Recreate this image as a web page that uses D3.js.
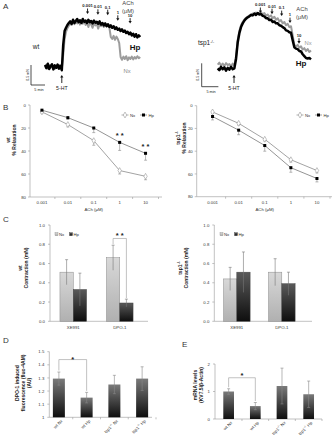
<!DOCTYPE html>
<html><head><meta charset="utf-8">
<script src="https://cdn.jsdelivr.net/npm/d3@7"></script>
<style>body{margin:0;background:#fff}svg{display:block;font-family:"Liberation Sans",Arial,sans-serif}</style>
</head><body><svg id="c" width="333" height="440"></svg>
<script>
// ---------------- DATA ----------------
const achLabels = ["0.001","0.01","0.1","1","10"];
const traceStep = 0.5; // min between samples
const wtHpTrace = [0.05,-0.03,0.08,-0.05,0.02,0.07,-0.06,0.04,-0.02,0.06,-0.04,0.03,-0.08,
 0.55,0.9,0.98,1.05,1.1,1.14,1.08,1.18,
 1.1,1.15,1.2,1.12,1.17,1.1,
 1.2,1.13,1.16,1.1,1.18,1.12,
 1.15,1.09,1.16,1.11,1.13,1.08,
 1.14,1.06,1.1,1.04,1.09,1.02,
 1.07,1.0,1.04,0.98,1.02,0.95,
 0.99,0.93,0.96,0.9,0.94,0.88,
 0.91,0.85,0.88,0.82,0.86,0.79,
 0.83,0.76,0.82,0.74,0.79,0.75];
const wtNxTrace = [0.02,0.06,-0.04,0.05,-0.02,0.04,0.0,-0.05,0.03,-0.03,0.05,-0.02,-0.04,
 0.3,0.7,0.88,0.97,1.03,1.08,1.05,1.12,
 1.07,1.13,1.09,1.15,1.06,1.12,
 1.08,1.14,1.05,1.1,1.0,1.12,
 1.06,0.98,1.1,1.04,1.08,0.96,
 1.07,1.02,1.06,1.0,1.05,1.02,
 1.04,0.98,0.75,0.7,0.78,0.68,
 0.76,0.7,0.6,0.25,0.18,0.26,
 0.2,0.27,0.17,0.24,0.2,0.26,
 0.19,0.25,0.21,0.27,0.22,0.25];
const tspNxTrace = [0.08,0.12,0.06,0.1,0.05,0.11,0.07,0.09,0.04,0.1,0.06,
 0.25,0.6,0.8,0.92,0.99,1.04,1.08,1.1,1.13,1.15,
 1.17,1.16,1.19,1.17,1.18,1.2,
 1.15,1.18,1.12,1.15,1.1,1.13,
 1.07,1.1,1.04,1.07,1.0,1.03,
 0.96,0.99,0.92,0.95,0.88,0.9,
 0.7,0.5,0.47,0.5,0.44,0.47,
 0.4,0.43,0.37,0.41,0.35,0.38];
const tspHpTrace = [0.0,-0.04,0.03,-0.02,0.02,-0.05,0.01,-0.03,0.03,-0.02,0.0,
 0.2,0.55,0.75,0.88,0.96,1.02,1.06,1.09,1.11,1.14,
 1.13,1.17,1.14,1.18,1.15,1.16,
 1.12,1.11,1.07,1.07,1.03,1.04,
 0.99,1.0,0.96,0.96,0.92,0.91,
 0.88,0.86,0.81,0.8,0.77,0.76,
 0.6,0.45,0.42,0.41,0.37,0.36,
 0.3,0.26,0.22,0.21,0.22,0.19];
const achTimesWt = [15.2,18.9,22.4,26.0,30.4];
const achTimesTsp = [12.8,16.3,19.2,21.7,24.4];
const htTimeWt = 6.0, htTimeTsp = 4.9;
const scaleBarMN = 0.5, scaleBarMin = 5;

const bWtNx = [6,17,31,57,62],      bWtNxErr = [1,2,4,3,3];
const bWtHp = [4.5,11,20,32.5,42],  bWtHpErr = [1,1.5,4,7,6];
const bTspNx = [5.5,15.5,29.5,47.5,57], bTspNxErr = [1,1.5,1.5,2,2];
const bTspHp = [9.5,21.5,35,54.5,64],   bTspHpErr = [3,4,5,4,3];
const bSigWt = ["","","","**","**"];
const bTicks = [0,20,40,60,80];

const cGroups = ["XE991","DPO-1"];
const cWtNx = [0.51,0.66],  cWtNxErr = [0.13,0.13];
const cWtHp = [0.33,0.19],  cWtHpErr = [0.17,0.04];
const cTspNx = [0.44,0.51], cTspNxErr = [0.12,0.14];
const cTspHp = [0.51,0.39], cTspHpErr = [0.21,0.12];
const cTicks = [0,0.2,0.4,0.6,0.8,1.0];

const deGeno = ["wt","wt","tsp1","tsp1"];
const deCond = ["Nx","Hp","Nx","Hp"];
const dVals = [1.295,1.15,1.25,1.295], dErr = [0.05,0.04,0.07,0.09];
const dTicks = [1,1.1,1.2,1.3,1.4,1.5];
const eVals = [1.0,0.47,1.2,0.9], eErr = [0.1,0.13,0.65,0.48];
const eTicks = [0,1,2];

// ---------------- DRAW ----------------
const svg = d3.select("#c");
const defs = svg.append("defs");
function grad(id, top, bot){
  const g = defs.append("linearGradient").attr("id",id).attr("x1",0).attr("y1",0).attr("x2",0).attr("y2",1);
  g.append("stop").attr("offset","0%").attr("stop-color",top);
  g.append("stop").attr("offset","100%").attr("stop-color",bot);
}
grad("gNx","#d8d8d8","#b0b0b0");
grad("gHp","#5a5a5a","#0e0e0e");
grad("gDark","#7a7a7a","#0e0e0e");

function text(g, x, y, s, o={}){
  return g.append("text").attr("x",x).attr("y",y).text(s)
    .attr("font-size",o.size||5).attr("fill",o.fill||"#222")
    .attr("text-anchor",o.anchor||"middle").attr("font-weight",o.weight||"normal");
}
function rotText(g, x, y, parts, o={}){
  const t = g.append("text").attr("transform",`translate(${x},${y}) rotate(-90)`)
    .attr("font-size",o.size||5).attr("fill",o.fill||"#222").attr("text-anchor","middle")
    .attr("font-weight",o.weight||"bold");
  parts.forEach(p=>{
    const ts = t.append("tspan").text(p.t);
    if(p.sup){ ts.attr("baseline-shift","super").attr("font-size",(o.size||5)*0.7); }
  });
  return t;
}

// Panel letters
[["A",3,9],["B",3,110],["C",3,222],["D",3,343],["E",182,347]].forEach(d=>
  text(svg,d[1],d[2],d[0],{size:8,anchor:"start",fill:"#333"}));

// ---- Panel A ----
function tracePanel(o){
  const g = svg.append("g");
  const n = o.hp.length;
  const x = d3.scaleLinear().domain([0,(n-1)*traceStep]).range(o.xr);
  const y = d3.scaleLinear().domain([0,1]).range(o.yr);
  const line = d3.line().x((d,i)=>x(i*traceStep)).y(d=>y(d));
  g.append("path").attr("d",line(o.nx)).attr("fill","none").attr("stroke","#9c9c9c").attr("stroke-width",2.0).attr("stroke-linejoin","round");
  g.append("path").attr("d",line(o.hp)).attr("fill","none").attr("stroke","#000").attr("stroke-width",2.5).attr("stroke-linejoin","round");
  o.ach.forEach((t,i)=>{
    const idx = Math.round(t/traceStep);
    const top = Math.min(y(o.hp[idx]), y(o.nx[idx]));
    const tip = Math.max(o.minTip, top - o.gap);
    const len = 5.5;
    g.append("line").attr("x1",x(t)).attr("x2",x(t)).attr("y1",tip-len).attr("y2",tip-2).attr("stroke","#111").attr("stroke-width",0.9);
    g.append("path").attr("d",`M${x(t)-1.6},${tip-2.6}L${x(t)+1.6},${tip-2.6}L${x(t)},${tip}Z`).attr("fill","#111");
    text(g,x(t),tip-len-1.2,achLabels[i],{size:4.2,weight:"bold"});
  });
  const hx = x(o.ht), hb = o.htY;
  g.append("line").attr("x1",hx).attr("x2",hx).attr("y1",hb-4).attr("y2",hb+2).attr("stroke","#111").attr("stroke-width",0.9);
  g.append("path").attr("d",`M${hx-1.6},${hb-3.4}L${hx+1.6},${hb-3.4}L${hx},${hb-6}Z`).attr("fill","#111");
  text(g,hx,hb+9,"5-HT",{size:5.2});
  const sx = o.sbx, sy = o.sby;
  const vlen = y(0)-y(scaleBarMN), hlen = x(scaleBarMin)-x(0);
  g.append("path").attr("d",`M${sx},${sy-vlen}V${sy}H${sx+hlen}`).attr("fill","none").attr("stroke","#222").attr("stroke-width",0.8);
  rotText(g,sx-2.5,sy-vlen/2,[{t:"0.5 mN"}],{size:3.6,weight:"normal"});
  text(g,sx+hlen/2+1,sy+6,"5 min",{size:3.8});
  return {x,y,g};
}
const aL = tracePanel({hp:wtHpTrace,nx:wtNxTrace,xr:[45,140.2],yr:[67,27],ach:achTimesWt,gap:9,minTip:13,ht:htTimeWt,htY:81,sbx:31,sby:85});
text(aL.g,36,49,"wt",{size:6.5});
text(aL.g,128,5,"ACh",{size:5.8,fill:"#444"});
text(aL.g,128,12.5,"(\u03bcM)",{size:5.8,fill:"#444"});
text(aL.g,135,50,"Hp",{size:8,weight:"bold",fill:"#111"});
text(aL.g,127,73,"Nx",{size:5.8,fill:"#888"});

const aR = tracePanel({hp:tspHpTrace,nx:tspNxTrace,xr:[217.7,311],yr:[68.3,21.5],ach:achTimesTsp,gap:4,minTip:13,ht:htTimeTsp,htY:81,sbx:201.7,sby:86.7});
const tt = aR.g.append("text").attr("x",206).attr("y",45).attr("font-size",6.5).attr("fill","#222").attr("text-anchor","middle");
tt.append("tspan").text("tsp1");
tt.append("tspan").text("-/-").attr("baseline-shift","super").attr("font-size",4.2);
text(aR.g,302,10.5,"ACh",{size:5.8,fill:"#444"});
text(aR.g,302,18.5,"(\u03bcM)",{size:5.8,fill:"#444"});
text(aR.g,308,45,"Nx",{size:5.8,fill:"#999"});
text(aR.g,301,66,"Hp",{size:8,weight:"bold",fill:"#111"});

// ---- Panel B ----
function linePanel(o){
  const g = svg.append("g");
  const x = d3.scaleBand().domain(achLabels).range(o.xr);
  const y = d3.scaleLinear().domain([0,80]).range(o.yr);
  const ax = "#999";
  g.append("line").attr("x1",o.ax).attr("x2",o.ax).attr("y1",y(0)).attr("y2",y(80)).attr("stroke",ax).attr("stroke-width",0.6);
  g.append("line").attr("x1",o.ax).attr("x2",o.xEnd).attr("y1",y(80)).attr("y2",y(80)).attr("stroke",ax).attr("stroke-width",0.6);
  bTicks.forEach(v=>{
    g.append("line").attr("x1",o.ax-2).attr("x2",o.ax).attr("y1",y(v)).attr("y2",y(v)).attr("stroke",ax).attr("stroke-width",0.6);
    text(g,o.ax-4,y(v)+1.6,String(v),{size:4.3,anchor:"end",fill:"#333"});
  });
  achLabels.forEach((c,i)=>{
    const e = x(c)+x.bandwidth();
    g.append("line").attr("x1",e).attr("x2",e).attr("y1",y(80)).attr("y2",y(80)+2).attr("stroke",ax).attr("stroke-width",0.6);
    text(g,x(c)+x.bandwidth()/2,y(80)+7,c,{size:4.3,fill:"#333"});
  });
  text(g,(o.xr[0]+o.xr[1])/2,y(80)+14,"ACh (\u03bcM)",{size:4.3,fill:"#333"});
  const cx = c=>x(c)+x.bandwidth()/2;
  const series = [{v:o.nx,e:o.nxE,col:"#999",m:"nx"},{v:o.hp,e:o.hpE,col:"#888",m:"hp"}];
  series.forEach(s=>{
    s.v.forEach((v,i)=>{
      const xx = cx(achLabels[i]);
      g.append("line").attr("x1",xx).attr("x2",xx).attr("y1",y(v)).attr("y2",y(v+s.e[i])).attr("stroke","#888").attr("stroke-width",0.6);
      g.append("line").attr("x1",xx-1.5).attr("x2",xx+1.5).attr("y1",y(v+s.e[i])).attr("y2",y(v+s.e[i])).attr("stroke","#888").attr("stroke-width",0.6);
    });
    g.append("path").attr("d",d3.line().x((d,i)=>cx(achLabels[i])).y(d=>y(d))(s.v)).attr("fill","none").attr("stroke",s.col).attr("stroke-width",0.9);
  });
  function marker(gg,xx,yy,m){
    if(m==="nx") gg.append("path").attr("d",d3.symbol(d3.symbolDiamond,10)()).attr("transform",`translate(${xx},${yy})`).attr("fill","#fff").attr("stroke","#999").attr("stroke-width",0.6);
    else gg.append("rect").attr("x",xx-1.5).attr("y",yy-1.5).attr("width",3).attr("height",3).attr("fill","#000");
  }
  series.forEach(s=> s.v.forEach((v,i)=>marker(g,cx(achLabels[i]),y(v),s.m)));
  if(o.sig) o.sig.forEach((s,i)=>{ if(s) text(g,cx(achLabels[i]),y(o.hp[i])-4,s.split("").join(" "),{size:7.5,weight:"bold",fill:"#222"}); });
  const L = o.leg;
  [["Nx","nx","#999"],["Hp","hp","#888"]].forEach((d,k)=>{
    const lx = L[0]+k*18.5, ly = L[1];
    g.append("line").attr("x1",lx).attr("x2",lx+7).attr("y1",ly).attr("y2",ly).attr("stroke",d[2]).attr("stroke-width",0.8);
    marker(g,lx+3.5,ly,d[1]);
    text(g,lx+8.5,ly+1.5,d[0],{size:4.3,anchor:"start",fill:"#333"});
  });
  return g;
}
const bL = linePanel({xr:[29,158.5],yr:[105,197],ax:30,xEnd:162,nx:bWtNx,nxE:bWtNxErr,hp:bWtHp,hpE:bWtHpErr,sig:bSigWt,leg:[121.5,115]});
rotText(bL,10,140,[{t:"wt"}]);
rotText(bL,16,140,[{t:"% Relaxation"}]);
const bR = linePanel({xr:[199.5,330],yr:[105.7,196.7],ax:196.7,xEnd:332,nx:bTspNx,nxE:bTspNxErr,hp:bTspHp,hpE:bTspHpErr,sig:null,leg:[296.5,115]});
rotText(bR,180,138,[{t:"tsp1"},{t:"-/-",sup:true}]);
rotText(bR,185.5,138,[{t:"% Relaxation"}]);

// ---- Panel C ----
function barPanel(o){
  const g = svg.append("g");
  const x0 = d3.scaleBand().domain(cGroups).range(o.xr);
  const x1 = d3.scaleBand().domain(["Nx","Hp"]).range([0,26.6]);
  const y = d3.scaleLinear().domain([0,1]).range([321.3,225]);
  const ax = "#999";
  g.append("line").attr("x1",o.ax).attr("x2",o.ax).attr("y1",y(0)).attr("y2",y(1)).attr("stroke",ax).attr("stroke-width",0.6);
  g.append("line").attr("x1",o.ax).attr("x2",o.xEnd).attr("y1",y(0)).attr("y2",y(0)).attr("stroke",ax).attr("stroke-width",0.6);
  cTicks.forEach(v=>{
    g.append("line").attr("x1",o.ax-2).attr("x2",o.ax).attr("y1",y(v)).attr("y2",y(v)).attr("stroke",ax).attr("stroke-width",0.6);
    text(g,o.ax-5,y(v)+1.6,v.toFixed(1),{size:4.3,anchor:"end",fill:"#333"});
  });
  const ser = [["Nx",o.nx,o.nxE,"url(#gNx)","#8a8a8a"],["Hp",o.hp,o.hpE,"url(#gHp)","#444"]];
  cGroups.forEach((grp,i)=>{
    const base = x0(grp)+x0.bandwidth()/2-13.3;
    ser.forEach(s=>{
      const bx = base + x1(s[0]);
      g.append("rect").attr("x",bx).attr("y",y(s[1][i])).attr("width",x1.bandwidth()).attr("height",y(0)-y(s[1][i])).attr("fill",s[3]).attr("stroke",s[4]).attr("stroke-width",0.5);
    });
    ser.forEach(s=>{
      const cx = base + x1(s[0]) + x1.bandwidth()/2, v=s[1][i], e=s[2][i];
      g.append("line").attr("x1",cx).attr("x2",cx).attr("y1",y(v+e)).attr("y2",y(v-e)).attr("stroke","#777").attr("stroke-width",0.6);
      g.append("line").attr("x1",cx-1.5).attr("x2",cx+1.5).attr("y1",y(v+e)).attr("y2",y(v+e)).attr("stroke","#777").attr("stroke-width",0.6);
    });
    text(g,x0(grp)+x0.bandwidth()/2,y(0)+8,grp,{size:4.3,fill:"#333"});
  });
  [["Nx","url(#gNx)","#8a8a8a"],["Hp","url(#gHp)","#444"]].forEach((d,k)=>{
    const lx = o.leg[0]+k*14.5, ly = o.leg[1];
    g.append("rect").attr("x",lx).attr("y",ly-2.8).attr("width",3).attr("height",3).attr("fill",d[1]).attr("stroke",d[2]).attr("stroke-width",0.4);
    text(g,lx+4,ly,d[0],{size:4.3,anchor:"start",fill:"#333"});
  });
  if(o.sig){
    const grp = cGroups[o.sig.i];
    const base = x0(grp)+x0.bandwidth()/2-13.3;
    const xa = base + x1("Nx")+x1.bandwidth()/2, xb = base + x1("Hp")+x1.bandwidth()/2;
    const by = y(o.sig.level);
    g.append("path").attr("d",`M${xa},${y(o.nx[o.sig.i]+o.nxE[o.sig.i])-1}V${by}H${xb}V${y(o.hp[o.sig.i]+o.hpE[o.sig.i])-1}`).attr("fill","none").attr("stroke","#999").attr("stroke-width",0.6);
    text(g,(xa+xb)/2,by-0.5,"* *",{size:7.5,weight:"bold",fill:"#222"});
  }
  return g;
}
const cL = barPanel({xr:[50,143],ax:50,xEnd:148,nx:cWtNx,nxE:cWtNxErr,hp:cWtHp,hpE:cWtHpErr,leg:[55,235.5],sig:{i:1,level:0.86}});
rotText(cL,22,268,[{t:"wt"}]);
rotText(cL,28,268,[{t:"Contraction (mN)"}]);
const cR = barPanel({xr:[214.3,304.3],ax:214.3,xEnd:312,nx:cTspNx,nxE:cTspNxErr,hp:cTspHp,hpE:cTspHpErr,leg:[220,235.5],sig:null});
rotText(cR,182,268,[{t:"tsp1"},{t:"-/-",sup:true}]);
rotText(cR,187.5,268,[{t:"Contraction (mN)"}]);

// ---- Panels D & E ----
function darkBars(o){
  const g = svg.append("g");
  const x = d3.scaleBand().domain(d3.range(deGeno.length)).range(o.xr);
  const y = d3.scaleLinear().domain(o.dom).range(o.yr);
  const ax = "#999";
  g.append("line").attr("x1",o.ax).attr("x2",o.ax).attr("y1",y(o.dom[0])).attr("y2",y(o.dom[1])).attr("stroke",ax).attr("stroke-width",0.6);
  g.append("line").attr("x1",o.ax).attr("x2",o.xEnd).attr("y1",y(o.dom[0])).attr("y2",y(o.dom[0])).attr("stroke",ax).attr("stroke-width",0.6);
  o.ticks.forEach(v=>{
    g.append("line").attr("x1",o.ax-2).attr("x2",o.ax).attr("y1",y(v)).attr("y2",y(v)).attr("stroke",ax).attr("stroke-width",0.6);
    text(g,o.ax-5,y(v)+1.6,String(v),{size:4.3,anchor:"end",fill:"#333"});
  });
  const y0 = y(o.dom[0]);
  o.vals.forEach((v,i)=>{
    const cx = x(i)+x.bandwidth()/2, e = o.err[i];
    g.append("line").attr("x1",x(i)+x.bandwidth()).attr("x2",x(i)+x.bandwidth()).attr("y1",y0).attr("y2",y0+2).attr("stroke",ax).attr("stroke-width",0.6);
    g.append("rect").attr("x",cx-o.bw/2).attr("y",y(v)).attr("width",o.bw).attr("height",y0-y(v)).attr("fill","url(#gDark)");
    g.append("line").attr("x1",cx).attr("x2",cx).attr("y1",y(v+e)).attr("y2",y(Math.max(o.dom[0],v-e))).attr("stroke","#888").attr("stroke-width",0.6);
    g.append("line").attr("x1",cx-1.5).attr("x2",cx+1.5).attr("y1",y(v+e)).attr("y2",y(v+e)).attr("stroke","#888").attr("stroke-width",0.6);
    if(v-e>o.dom[0]) g.append("line").attr("x1",cx-1.5).attr("x2",cx+1.5).attr("y1",y(v-e)).attr("y2",y(v-e)).attr("stroke","#888").attr("stroke-width",0.6);
    const lab = g.append("text").attr("transform",`translate(${cx+4},${y0+4}) rotate(-45)`).attr("text-anchor","end").attr("font-size",4.3).attr("fill","#333");
    lab.append("tspan").text(deGeno[i]);
    if(deGeno[i]!=="wt") lab.append("tspan").text("-/-").attr("baseline-shift","super").attr("font-size",3);
    lab.append("tspan").text(" "+deCond[i]);
  });
  const xa = x(0)+x.bandwidth()/2, xb = x(1)+x.bandwidth()/2, by = y(o.sigLevel);
  g.append("path").attr("d",`M${xa},${y(o.vals[0]+o.err[0])-1.5}V${by}H${xb}V${y(o.vals[1]+o.err[1])-1.5}`).attr("fill","none").attr("stroke","#999").attr("stroke-width",0.6);
  text(g,(xa+xb)/2,by+o.starDy,"*",{size:7.5,weight:"bold",fill:"#222"});
  return g;
}
const dG = darkBars({xr:[45,156],yr:[417.3,351.7],dom:[1,1.5],ax:49.3,xEnd:152,ticks:dTicks,vals:dVals,err:dErr,bw:12,sigLevel:1.44,starDy:2});
[["DPO-1 induced",19],["fluorescence (fluo-4AM)",25],["(AU)",30.5]].forEach(d=>rotText(dG,d[1],383,[{t:d[0]}]));
const eG = darkBars({xr:[215.3,322],yr:[419,364],dom:[0,2],ax:215,xEnd:322,ticks:eTicks,vals:eVals,err:eErr,bw:10.7,sigLevel:1.5,starDy:0.5});
rotText(eG,197,385,[{t:"mRNA levels"}]);
rotText(eG,202.5,385,[{t:"(KV7.5/\u03b2-Actin)"}]);
</script></body></html>
